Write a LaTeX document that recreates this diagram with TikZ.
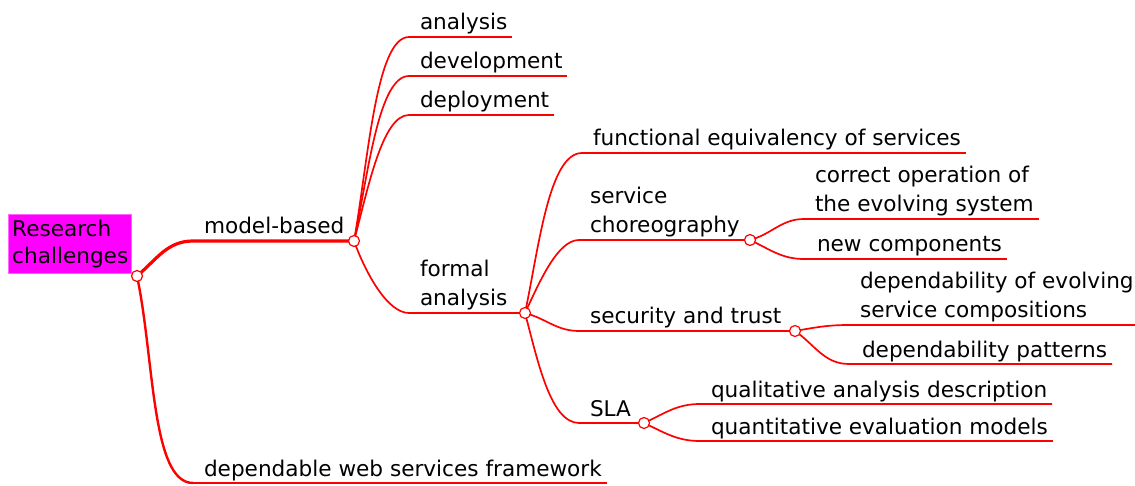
\documentclass[tikz,border=0pt]{standalone}
\usepackage{fontspec}
\setmainfont{DejaVu Sans}
\definecolor{rootmag}{RGB}{255,0,255}
\definecolor{mapred}{RGB}{255,0,0}
\tikzset{
  topic/.style={font=\fontsize{21.6}{29}\selectfont, align=left, inner xsep=5pt, inner ysep=7pt,
    text depth=0pt, outer sep=0pt, anchor=south west},
  rootbox/.style={font=\fontsize{21.6}{27}\selectfont, align=left, fill=rootmag, draw=rootmag!60,
    text width=115pt, minimum height=59pt, inner xsep=4pt, inner ysep=0pt, anchor=north west},
  knot/.style={circle, draw=mapred, fill=white, line width=1.2pt, minimum size=11pt, inner sep=0pt},
  conn/.style={draw=mapred, line width=1.7pt},
  thick conn/.style={draw=mapred, line width=3.2pt},
  under/.style={draw=mapred, line width=1.4pt},
}
\begin{document}
\begin{tikzpicture}[x=1pt,y=1pt]
	\useasboundingbox (0,0) rectangle (1135,485);
	\node[rootbox] (root) at (8,271) {Research\\challenges};
	\node[topic] (mbl) at (199,244) {model-based};
	\node[topic] (dws) at (199,2) {dependable web services framework};
	\node[topic] (ana) at (415,448) {analysis};
	\node[topic] (dev) at (415,409) {development};
	\node[topic] (dep) at (415,370) {deployment};
	\node[topic] (fal) at (415,172) {formal\\analysis};
	\node[topic] (fun) at (588,332) {functional equivalency of services};
	\node[topic] (scl) at (585,245) {service\\choreography};
	\node[topic] (stl) at (585,154) {security and trust};
	\node[topic] (slal) at (585,62) {SLA};
	\node[topic] (cor) at (810,266) {correct operation of\\the evolving system};
	\node[topic] (new) at (812,226) {new components};
	\node[topic] (evo) at (855,160) {dependability of evolving\\service compositions};
	\node[topic] (pat) at (857,121) {dependability patterns};
	\node[topic] (qual) at (706,81) {qualitative analysis description};
	\node[topic] (quan) at (706,44) {quantitative evaluation models};
	\coordinate (rt) at (137,209);
	\coordinate (mb) at (354,244);
	\coordinate (fa) at (525,172);
	\coordinate (sc) at (750,245);
	\coordinate (st) at (795,154);
	\coordinate (sla) at (644,62);
	\draw[thick conn] (rt) to[out=40,in=180] ([xshift=-6pt]mbl.south west) -- (mb);
	\draw[conn, line width=2.4pt] (rt) to[out=-78,in=180,in looseness=0.5] ([xshift=-6pt]dws.south west);
	\draw[under] ([xshift=-6pt]dws.south west) -- (dws.south east);
	\draw[conn] (mb) to[out=80,in=180,in looseness=0.4] ([xshift=-6pt]ana.south west);
	\draw[conn] (mb) to[out=78,in=180,in looseness=0.45] ([xshift=-6pt]dev.south west);
	\draw[conn] (mb) to[out=75,in=180,in looseness=0.5] ([xshift=-6pt]dep.south west);
	\draw[conn] (mb) to[out=-70,in=180,in looseness=0.6] ([xshift=-6pt]fal.south west) -- (fa);
	\draw[under] ([xshift=-6pt]ana.south west) -- (ana.south east);
	\draw[under] ([xshift=-6pt]dev.south west) -- (dev.south east);
	\draw[under] ([xshift=-6pt]dep.south west) -- (dep.south east);
	\draw[conn] (fa) to[out=78,in=180,in looseness=0.5] ([xshift=-6pt]fun.south west);
	\draw[under] ([xshift=-6pt]fun.south west) -- (fun.south east);
	\draw[conn] (fa) to[out=65,in=180,in looseness=0.6] ([xshift=-6pt]scl.south west) -- (sc);
	\draw[conn] (fa) to[out=-15,in=180] ([xshift=-6pt]stl.south west) -- (st);
	\draw[conn] (fa) to[out=-75,in=180,in looseness=0.6] ([xshift=-6pt]slal.south west) -- (sla);
	\draw[conn] (sc) to[out=15,in=180] ([xshift=-6pt]cor.south west) -- (cor.south east);
	\draw[conn] (sc) to[out=-25,in=180] ([xshift=-8pt]new.south west) -- (new.south east);
	\draw[conn] (st) to[out=10,in=180] ([xshift=-6pt]evo.south west) -- (evo.south east);
	\draw[conn] (st) to[out=-35,in=180] ([xshift=-8pt]pat.south west) -- (pat.south east);
	\draw[conn] (sla) to[out=25,in=180] ([xshift=-6pt]qual.south west) -- (qual.south east);
	\draw[conn] (sla) to[out=-25,in=180] ([xshift=-6pt]quan.south west) -- (quan.south east);
	\foreach \k in {rt,mb,fa,sc,st,sla}
		\node[knot] at (\k) {};
\end{tikzpicture}
\end{document}
